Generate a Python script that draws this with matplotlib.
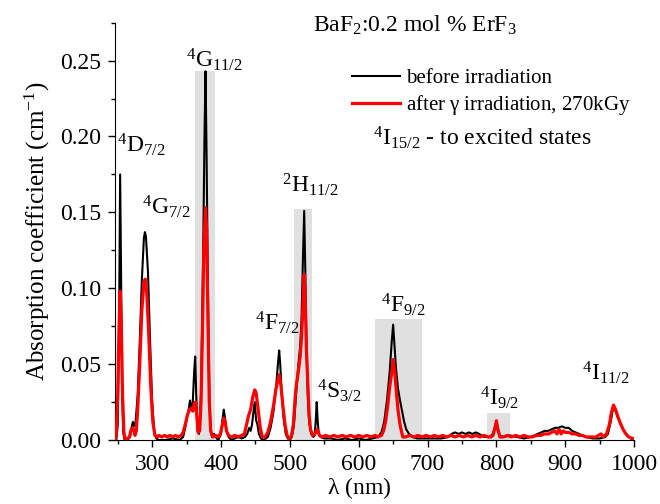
import matplotlib
matplotlib.use('Agg')
import matplotlib.pyplot as plt
from matplotlib.ticker import MultipleLocator
from matplotlib.lines import Line2D

plt.rcParams['font.family'] = 'Liberation Serif'
plt.rcParams['mathtext.fontset'] = 'custom'
plt.rcParams['mathtext.rm'] = 'Liberation Serif'
plt.rcParams['mathtext.it'] = 'Liberation Serif:italic'
plt.rcParams['mathtext.default'] = 'regular'

# absorption before irradiation
wl_before = [248, 250, 252, 253.5, 255, 256.5, 258, 260, 264, 268, 270, 272, 274, 276, 279, 282, 285, 288,
             289.5, 291, 294, 297, 300, 303, 306, 310, 320, 330, 340, 345, 348, 351, 353, 355, 357, 359,
             361, 362.5, 364, 366, 368, 371, 374, 376, 377.5, 379, 381, 383, 385, 387, 390, 392, 396,
             400, 402, 404, 406, 408, 411, 415, 420, 425, 430, 435, 438, 441, 443, 445, 447, 449, 451,
             453, 455, 458, 462, 468, 472, 476, 480, 483, 484.5, 486, 488, 491, 494, 497, 500, 503, 506,
             509, 512, 515, 517, 519, 520.8, 522.5, 524, 526, 528, 531, 534, 536, 537.5, 539, 540.5, 542,
             545, 550, 560, 570, 580, 590, 600, 610, 620, 628, 633, 637, 641, 645, 648, 650, 652, 654,
             657, 660, 663, 666, 669, 673, 678, 685, 700, 720, 730, 735, 740, 745, 750, 755, 760, 765,
             770, 775, 782, 790, 795, 798, 800, 802, 805, 810, 820, 830, 840, 850, 860, 865, 870, 875,
             880, 885, 890, 895, 900, 905, 910, 915, 920, 925, 930, 940, 950, 958, 962, 966, 969, 971,
             974, 977, 981, 985, 990, 995, 1000]
abs_before = [0.000, 0.010, 0.080, 0.175, 0.100, 0.030, 0.005, 0.000, 0.000, 0.002, 0.008, 0.012, 0.009,
              0.012, 0.030, 0.065, 0.105, 0.133, 0.137, 0.134, 0.110, 0.065, 0.025, 0.006, 0.001, 0.000,
              0.000, 0.001, 0.000, 0.002, 0.008, 0.016, 0.020, 0.026, 0.020, 0.025, 0.045, 0.055, 0.030,
              0.006, 0.004, 0.030, 0.120, 0.200, 0.243, 0.190, 0.100, 0.030, 0.006, 0.002, 0.004, 0.002,
              0.000, 0.004, 0.013, 0.020, 0.014, 0.006, 0.002, 0.000, 0.001, 0.002, 0.001, 0.002, 0.004,
              0.008, 0.006, 0.010, 0.018, 0.025, 0.013, 0.010, 0.004, 0.001, 0.000, 0.002, 0.008, 0.018,
              0.035, 0.052, 0.059, 0.050, 0.032, 0.014, 0.004, 0.001, 0.000, 0.002, 0.010, 0.030, 0.048,
              0.062, 0.080, 0.120, 0.151, 0.110, 0.065, 0.030, 0.012, 0.004, 0.002, 0.003, 0.012, 0.025,
              0.012, 0.004, 0.002, 0.001, 0.001, 0.000, 0.001, 0.000, 0.001, 0.000, 0.001, 0.002, 0.005,
              0.012, 0.026, 0.045, 0.065, 0.076, 0.062, 0.048, 0.034, 0.026, 0.019, 0.012, 0.007, 0.004,
              0.002, 0.001, 0.001, 0.001, 0.002, 0.004, 0.005, 0.004, 0.005, 0.004, 0.005, 0.004, 0.005,
              0.004, 0.002, 0.002, 0.004, 0.009, 0.012, 0.008, 0.003, 0.002, 0.003, 0.002, 0.001, 0.002,
              0.004, 0.005, 0.006, 0.006, 0.007, 0.008, 0.008, 0.009, 0.008, 0.008, 0.006, 0.005, 0.004,
              0.003, 0.002, 0.001, 0.001, 0.002, 0.004, 0.012, 0.020, 0.022, 0.018, 0.014, 0.010, 0.006,
              0.003, 0.001, 0.000]

# absorption after gamma irradiation
wl_after = [246, 248, 250, 252, 253.5, 255, 257, 259, 261, 264, 267, 269, 271, 273, 275, 277, 279, 282,
            285, 288, 290, 292, 295, 298, 301, 304, 307, 310, 314, 318, 322, 326, 330, 334, 338, 342, 345,
            348, 351, 354, 357, 359, 361, 363, 365, 367, 369, 371, 373, 375, 377.5, 379, 381, 383, 385,
            388, 392, 396, 399, 402, 404, 406, 408, 411, 415, 420, 425, 430, 434, 437, 440, 443, 446, 449,
            451, 454, 457, 460, 464, 468, 472, 476, 480, 484.5, 487, 490, 493, 496, 499, 502, 505, 508,
            510, 512, 515, 517, 519, 520.8, 522.5, 524, 526.5, 528, 530, 533, 536, 538, 539.5, 541, 543,
            546, 552, 558, 564, 570, 576, 582, 588, 594, 600, 606, 612, 618, 624, 628, 633, 636, 639, 642,
            645, 648.5, 650, 652.5, 655, 657, 660, 662, 664, 668, 674, 680, 686, 692, 698, 704, 710, 716,
            722, 728, 734, 740, 746, 752, 758, 764, 770, 776, 782, 788, 792, 795, 798, 800, 802, 805, 810,
            816, 822, 828, 834, 840, 846, 852, 858, 864, 870, 876, 880, 885, 888, 891, 894, 897, 900, 905,
            910, 915, 920, 925, 930, 935, 940, 945, 948, 952, 955, 960, 964, 967, 970, 973, 976, 980, 984,
            988, 992, 998]
abs_after = [0.000, 0.004, 0.030, 0.075, 0.098, 0.080, 0.030, 0.005, 0.000, 0.001, 0.002, 0.006, 0.008,
             0.007, 0.003, 0.006, 0.020, 0.050, 0.085, 0.104, 0.106, 0.098, 0.070, 0.035, 0.012, 0.003,
             0.002, 0.003, 0.002, 0.003, 0.002, 0.003, 0.002, 0.003, 0.002, 0.003, 0.005, 0.010, 0.016,
             0.020, 0.021, 0.019, 0.024, 0.025, 0.015, 0.005, 0.006, 0.025, 0.070, 0.125, 0.153, 0.140,
             0.080, 0.025, 0.006, 0.002, 0.003, 0.002, 0.004, 0.010, 0.0145, 0.012, 0.006, 0.003, 0.002,
             0.003, 0.002, 0.003, 0.004, 0.010, 0.016, 0.020, 0.028, 0.033, 0.031, 0.020, 0.008, 0.002,
             0.002, 0.005, 0.012, 0.022, 0.034, 0.043, 0.036, 0.022, 0.010, 0.003, 0.001, 0.002, 0.010,
             0.030, 0.038, 0.044, 0.055, 0.068, 0.088, 0.109, 0.090, 0.060, 0.033, 0.016, 0.007, 0.003,
             0.004, 0.005, 0.007, 0.006, 0.003, 0.002, 0.003, 0.002, 0.003, 0.002, 0.003, 0.002, 0.003,
             0.002, 0.003, 0.002, 0.003, 0.002, 0.003, 0.002, 0.003, 0.006, 0.012, 0.022, 0.035, 0.046,
             0.053, 0.044, 0.030, 0.020, 0.010, 0.006, 0.002, 0.002, 0.003, 0.002, 0.003, 0.002, 0.003,
             0.002, 0.003, 0.002, 0.003, 0.002, 0.003, 0.002, 0.003, 0.002, 0.003, 0.002, 0.003, 0.002,
             0.003, 0.002, 0.002, 0.003, 0.008, 0.0127, 0.007, 0.002, 0.002, 0.003, 0.002, 0.003, 0.002,
             0.003, 0.002, 0.002, 0.003, 0.003, 0.004, 0.004, 0.005, 0.006, 0.004, 0.007, 0.004, 0.006,
             0.005, 0.005, 0.004, 0.004, 0.003, 0.003, 0.002, 0.002, 0.002, 0.002, 0.003, 0.004, 0.002,
             0.004, 0.010, 0.018, 0.023, 0.020, 0.016, 0.011, 0.007, 0.004, 0.002, 0.001]

# shaded bands behind the main transitions
band_lo = [362, 506, 624, 786]
band_hi = [391, 532, 692, 820]
band_top = [0.243, 0.152, 0.080, 0.0176]

# transition labels: text, x (nm), y
level_text = [r'$^4$D$_{7/2}$', r'$^4$G$_{7/2}$', r'$^4$G$_{11/2}$', r'$^2$H$_{11/2}$',
              r'$^4$F$_{7/2}$', r'$^4$S$_{3/2}$', r'$^4$F$_{9/2}$', r'$^4$I$_{9/2}$', r'$^4$I$_{11/2}$']
level_x = [248.5, 285, 349, 488, 449, 540, 633, 776, 924]
level_y = [0.1897, 0.1485, 0.2457, 0.1636, 0.0725, 0.0275, 0.0845, 0.023, 0.0395]

fig = plt.figure(figsize=(6.6, 5.04), dpi=100)
ax = fig.add_axes([0.1742, 0.127, 0.7866, 0.828])

widths = [h - l for l, h in zip(band_lo, band_hi)]
ax.bar(band_lo, band_top, width=widths, align='edge', color='#e0e0e0', zorder=0)

ax.plot(wl_before, abs_before, color='black', lw=1.5, zorder=2)
ax.plot(wl_after, abs_after, color='#ff0000', lw=2.3, zorder=3)

for t, x, y in zip(level_text, level_x, level_y):
    ax.text(x, y, t, fontsize=17, ha='left', va='baseline')

ax.set_xlim(246, 1000)
ax.set_ylim(0, 0.275)
ax.xaxis.set_major_locator(MultipleLocator(100))
ax.xaxis.set_minor_locator(MultipleLocator(50))
ax.yaxis.set_major_locator(MultipleLocator(0.05))
ax.yaxis.set_minor_locator(MultipleLocator(0.025))
ax.yaxis.set_major_formatter(matplotlib.ticker.FormatStrFormatter('%.2f'))
ax.tick_params(which='major', direction='out', length=5, width=1, labelsize=17, pad=5)
ax.tick_params(which='minor', direction='out', length=3, width=1)
ax.spines['top'].set_visible(False)
ax.spines['right'].set_visible(False)

ax.set_ylabel(r'Absorption coefficient (cm$^{-1}$)', fontsize=18, labelpad=6)
ax.set_xlabel(r'$\lambda$ (nm)', fontsize=17)
ax.xaxis.set_label_coords(0.471, -0.085)

fig.text(415 / 660, 1 - 31.7 / 504, r'BaF$_2$:0.2 mol % ErF$_3$', fontsize=17,
         ha='center', va='baseline')
handles = [Line2D([], [], color='black', lw=1.5), Line2D([], [], color='#ff0000', lw=2.3)]
ax.legend(handles, ['before irradiation', r'after $\gamma$ irradiation, 270kGy'],
          loc='upper left', bbox_to_anchor=(0.44, 0.91), frameon=False, fontsize=15,
          handlelength=2.3, handletextpad=0.3, labelspacing=0.25, borderaxespad=0)
fig.text(373 / 660, 1 - 145 / 504, r'$^4$I$_{15/2}$ - to excited states', fontsize=17,
         ha='left', va='baseline')

fig.savefig('out.png', dpi=100)
